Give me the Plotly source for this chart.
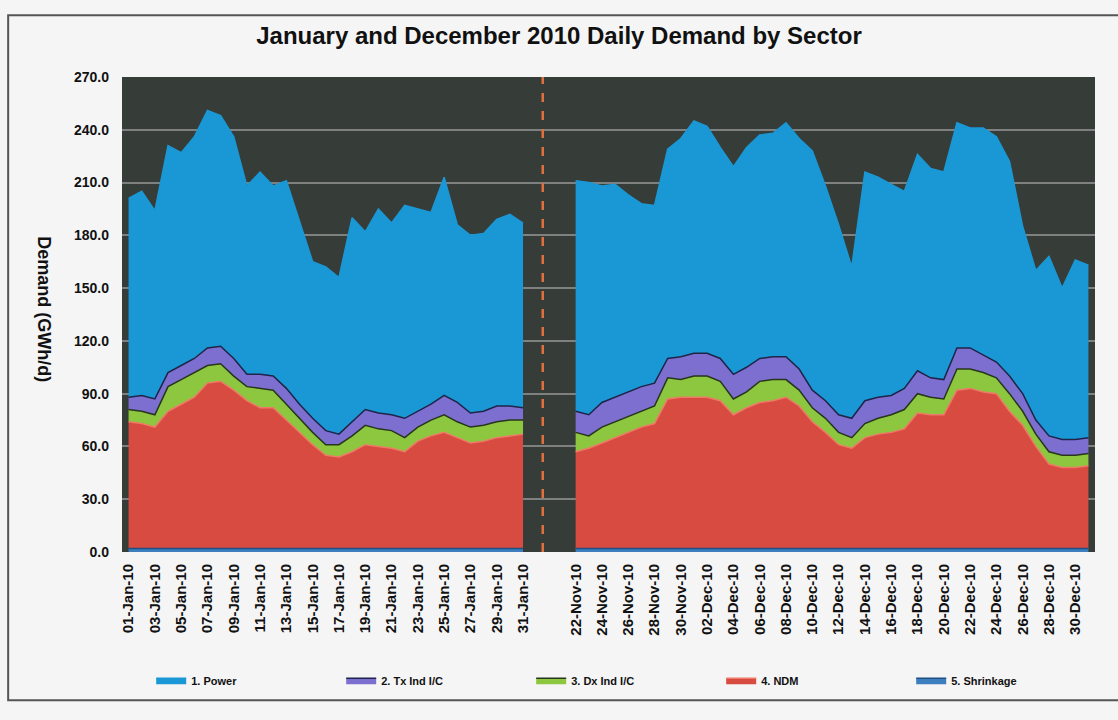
import plotly.graph_objects as go

# ---------------- data ----------------
jan_labels = ["%02d-Jan-10" % d for d in range(1, 32)]
dec_labels = ["%02d-Nov-10" % d for d in range(22, 31)] + ["%02d-Dec-10" % d for d in range(1, 32)]

# January 2010 (GWh/d)
jan_power = [113, 116, 107, 129, 121, 126, 135, 131, 126, 107, 115, 108, 118, 104, 89, 93,
             89, 116, 101, 116, 109, 121, 115, 109, 124, 101, 101, 101, 106, 109, 105]
jan_tx = [7, 9, 9, 8, 8, 8, 10, 10, 10, 7, 8, 8, 9, 8, 8, 8,
          6, 8, 9, 9, 9, 11, 9, 9, 11, 11, 8, 8, 9, 8, 7]
jan_dx = [7, 7, 7, 14, 14, 14, 10, 10, 8, 8, 11, 10, 9, 8, 7, 6,
          7, 9, 11, 10, 10, 8, 8, 9, 10, 9, 9, 9, 9, 9, 8]
jan_ndm = [72, 71, 69, 78, 82, 86, 94, 95, 90, 84, 80, 80, 73, 66, 59, 53,
           52, 55, 59, 58, 57, 55, 61, 64, 66, 63, 60, 61, 63, 64, 65]
jan_shr = [2] * 31

# 22 November - 31 December 2010 (GWh/d)
dec_power = [131, 132, 123, 121, 112, 104, 101, 119, 124,
             132, 129, 120, 118, 125, 127, 127, 133, 131, 136, 122, 108, 86, 130, 125, 120,
             112, 123, 119, 118, 128, 125, 129, 128, 122, 95, 85, 102, 86, 102, 98]
dec_tx = [12, 12, 14, 14, 14, 14, 13, 11, 13,
          13, 13, 13, 14, 14, 13, 13, 13, 12, 10, 10, 10, 11, 13, 12, 11,
          12, 13, 11, 11, 12, 12, 10, 9, 10, 10, 8, 9, 9, 9, 9]
dec_dx = [11, 7, 9, 9, 9, 9, 10, 12, 10,
          12, 12, 11, 9, 9, 12, 12, 10, 9, 8, 8, 7, 6, 8, 9, 10,
          11, 11, 10, 9, 12, 11, 11, 9, 10, 8, 7, 7, 7, 7, 7]
dec_ndm = [55, 57, 60, 63, 66, 69, 71, 85, 86,
           86, 86, 84, 76, 80, 83, 84, 86, 81, 72, 66, 59, 57, 63, 65, 66,
           68, 77, 76, 76, 90, 91, 89, 88, 78, 70, 58, 48, 46, 46, 47]
dec_shr = [2] * 40

series_names = ["1. Power", "2. Tx Ind I/C", "3. Dx Ind I/C", "4. NDM", "5. Shrinkage"]
y_ticks = [0, 30, 60, 90, 120, 150, 180, 210, 240, 270]

# ---------------- positions (category index, with 3 blank slots between periods) ----------------
gap = 3
jan_x = list(range(len(jan_labels)))
dec_start = len(jan_labels) + gap
dec_x = [dec_start + i for i in range(len(dec_labels))]
n_slots = dec_x[-1] + 1

tick_vals = jan_x[::2] + dec_x[::2]
tick_text = jan_labels[::2] + dec_labels[::2]

colors = {
    "1. Power": "#1a98d5",
    "2. Tx Ind I/C": "#7d6fd0",
    "3. Dx Ind I/C": "#8dc63f",
    "4. NDM": "#d84b40",
    "5. Shrinkage": "#3d7ebf",
}
edge = {
    "1. Power": "#1a98d5",
    "2. Tx Ind I/C": "#1f2448",
    "3. Dx Ind I/C": "#27361c",
    "4. NDM": "#ef7a68",
    "5. Shrinkage": "#1f4f80",
}

jan_vals = {"1. Power": jan_power, "2. Tx Ind I/C": jan_tx, "3. Dx Ind I/C": jan_dx,
            "4. NDM": jan_ndm, "5. Shrinkage": jan_shr}
dec_vals = {"1. Power": dec_power, "2. Tx Ind I/C": dec_tx, "3. Dx Ind I/C": dec_dx,
            "4. NDM": dec_ndm, "5. Shrinkage": dec_shr}

fig = go.Figure()
stack_order = ["5. Shrinkage", "4. NDM", "3. Dx Ind I/C", "2. Tx Ind I/C", "1. Power"]
for grp, xs, vals in (("jan", jan_x, jan_vals), ("dec", dec_x, dec_vals)):
    for name in stack_order:
        fig.add_trace(go.Scatter(
            x=xs, y=vals[name], name=name, mode="lines",
            stackgroup=grp, fillcolor=colors[name],
            line=dict(color=edge[name], width=1.5),
            legendgroup=name, showlegend=(grp == "jan"),
            legendrank=series_names.index(name) + 1,
        ))

# dashed separator between the two periods
sep_x = len(jan_labels) - 1 + (gap + 1) / 2 - 0.5
fig.add_shape(type="line", xref="x", yref="paper", x0=sep_x, x1=sep_x, y0=0, y1=1,
              line=dict(color="#e2703e", width=2.5, dash="dash"), layer="above")

# page frame
fig.add_shape(type="rect", xref="paper", yref="paper", x0=-0.117, x1=1.05, y0=-0.312, y1=1.13,
              line=dict(color="#555555", width=2), layer="below")

fig.add_annotation(text="Demand (GWh/d)", xref="paper", yref="paper",
                   x=-0.092, y=0.51, textangle=90, showarrow=False,
                   font=dict(size=18, color="#111111", family="Liberation Sans", weight="bold"))

fig.update_layout(
    width=1118, height=720,
    paper_bgcolor="#f5f5f5", plot_bgcolor="#363c38",
    margin=dict(l=122, r=23, t=77, b=168),
    title=dict(text="January and December 2010 Daily Demand by Sector",
               x=0.5, xanchor="center", y=0.951, yanchor="middle",
               font=dict(size=24, color="#111111", family="Liberation Sans", weight="bold")),
    font=dict(family="Liberation Sans", color="#111111"),
    xaxis=dict(range=[-0.5, n_slots - 0.5], tickmode="array", tickvals=tick_vals,
               ticktext=tick_text, tickangle=-90, ticklabelstandoff=8,
               tickfont=dict(size=15, weight="bold"), showgrid=False, zeroline=False, ticks=""),
    yaxis=dict(range=[0, 270], tickmode="array", tickvals=y_ticks,
               ticktext=["%.1f" % v for v in y_ticks], ticklabelstandoff=12,
               tickfont=dict(size=14, weight="bold"), showgrid=True,
               gridcolor="rgba(185,185,185,0.55)", gridwidth=1.5, zeroline=False, ticks=""),
    legend=dict(orientation="h", x=0.03, y=-0.27, xanchor="left", yanchor="middle",
                entrywidth=145, itemwidth=30, traceorder="normal",
                font=dict(size=11, color="#111111", weight="bold"), bgcolor="rgba(0,0,0,0)"),
    showlegend=True,
)

fig.write_html("out.html")
